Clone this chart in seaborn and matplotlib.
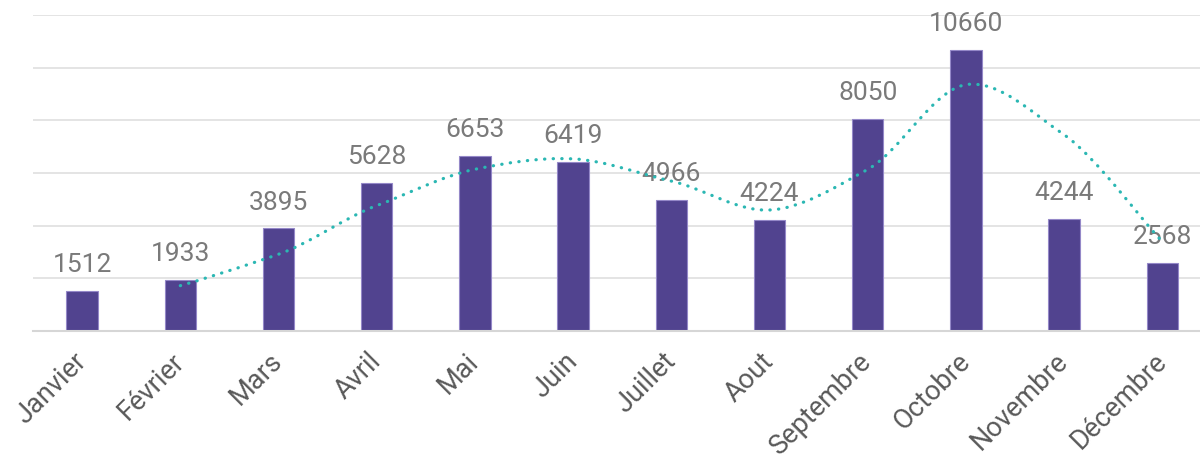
import matplotlib
matplotlib.use("Agg")
import matplotlib.pyplot as plt
from matplotlib.path import Path
from matplotlib.patches import PathPatch
import seaborn as sns
import pandas as pd

months = ["Janvier", "Février", "Mars", "Avril", "Mai", "Juin", "Juillet",
          "Aout", "Septembre", "Octobre", "Novembre", "Décembre"]
sales = [1512, 1933, 3895, 5628, 6653, 6419, 4966, 4224, 8050, 10660, 4244, 2568]
# dotted trend line values (starts at Février)
trend = [1722, 2914, 4762, 6141, 6536, 5693, 4595, 6137, 9355, 7452, 3406]

df = pd.DataFrame({"Mois": months, "Ventes": sales})

sns.set_theme(style="white")
plt.rcParams["font.family"] = ["Roboto", "DejaVu Sans"]

fig = plt.figure(figsize=(12, 4.54), dpi=100)
ax = fig.add_axes([33 / 1200, 1 - 331 / 454, 1178.4 / 1200, (331 - 15) / 454])

sns.barplot(data=df, x="Mois", y="Ventes", color="#51438f", saturation=1,
            width=0.32, edgecolor="#9488c8", linewidth=0.8, ax=ax)

ax.bar_label(ax.containers[0], labels=[str(v) for v in sales], padding=10,
             fontsize=19, color="#7a7a7a", clip_on=False)

# smoothed dotted trend line (bezier through the points)
xs = list(range(1, 12))
pts = list(zip(xs, trend))
verts = [pts[0]]
codes = [Path.MOVETO]
for i in range(len(pts) - 1):
    p0 = pts[i - 1] if i > 0 else pts[i]
    p1 = pts[i]
    p2 = pts[i + 1]
    p3 = pts[i + 2] if i + 2 < len(pts) else pts[i + 1]
    c1 = (p1[0] + (p2[0] - p0[0]) / 6, p1[1] + (p2[1] - p0[1]) / 7)
    c2 = (p2[0] - (p3[0] - p1[0]) / 6, p2[1] - (p3[1] - p1[1]) / 7)
    verts += [c1, c2, p2]
    codes += [Path.CURVE4] * 3
patch = PathPatch(Path(verts, codes), facecolor="none", edgecolor="#2bb7b3",
                  linewidth=2.3, linestyle=(0, (0.1, 2.6)), capstyle="round",
                  zorder=4)
ax.add_patch(patch)

ax.set_xlim(-0.5, 11.5)
ax.set_ylim(0, 12000)
ax.set_yticks(range(0, 12001, 2000))
ax.yaxis.grid(True, color="#e2e2e2", linewidth=1.3)
ax.set_axisbelow(True)
ax.tick_params(axis="y", left=False, labelleft=False)
ax.tick_params(axis="x", bottom=False, pad=13)
for lab in ax.get_xticklabels():
    lab.set_rotation(45)
    lab.set_ha("right")
    lab.set_va("center")
    lab.set_rotation_mode("anchor")
    lab.set_fontsize(19.5)
    lab.set_color("#595959")
for s in ["top", "right", "left"]:
    ax.spines[s].set_visible(False)
ax.spines["bottom"].set_color("#d6d6d6")
ax.spines["bottom"].set_linewidth(1.5)
ax.set_xlabel("")
ax.set_ylabel("")

fig.savefig("out.png", dpi=100)
